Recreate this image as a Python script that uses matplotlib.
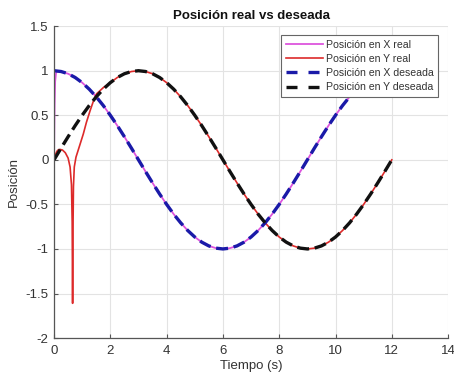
import matplotlib
matplotlib.use("Agg")
import matplotlib.pyplot as plt
from matplotlib.lines import Line2D

# ---- data ----
t_des = [0, 0.25, 0.5, 0.75, 1, 1.25, 1.5, 1.75, 2, 2.25, 2.5, 2.75, 3,
         3.25, 3.5, 3.75, 4, 4.25, 4.5, 4.75, 5, 5.25, 5.5, 5.75, 6,
         6.25, 6.5, 6.75, 7, 7.25, 7.5, 7.75, 8, 8.25, 8.5, 8.75, 9,
         9.25, 9.5, 9.75, 10, 10.25, 10.5, 10.75, 11, 11.25, 11.5, 11.75, 12]
x_des = [1.000, 0.991, 0.966, 0.924, 0.866, 0.793, 0.707, 0.609, 0.500, 0.383, 0.259, 0.131, 0.000,
         -0.131, -0.259, -0.383, -0.500, -0.609, -0.707, -0.793, -0.866, -0.924, -0.966, -0.991, -1.000,
         -0.991, -0.966, -0.924, -0.866, -0.793, -0.707, -0.609, -0.500, -0.383, -0.259, -0.131, 0.000,
         0.131, 0.259, 0.383, 0.500, 0.609, 0.707, 0.793, 0.866, 0.924, 0.966, 0.991, 1.000]
y_des = [0.000, 0.131, 0.259, 0.383, 0.500, 0.609, 0.707, 0.793, 0.866, 0.924, 0.966, 0.991, 1.000,
         0.991, 0.966, 0.924, 0.866, 0.793, 0.707, 0.609, 0.500, 0.383, 0.259, 0.131, 0.000,
         -0.131, -0.259, -0.383, -0.500, -0.609, -0.707, -0.793, -0.866, -0.924, -0.966, -0.991, -1.000,
         -0.991, -0.966, -0.924, -0.866, -0.793, -0.707, -0.609, -0.500, -0.383, -0.259, -0.131, 0.000]

t_xreal = [0, 0.01, 0.02, 0.04, 0.07, 0.1, 0.25, 0.5, 0.75, 1, 1.25, 1.5, 1.75, 2, 2.25, 2.5, 2.75, 3,
           3.25, 3.5, 3.75, 4, 4.25, 4.5, 4.75, 5, 5.25, 5.5, 5.75, 6,
           6.25, 6.5, 6.75, 7, 7.25, 7.5, 7.75, 8, 8.25, 8.5, 8.75, 9,
           9.25, 9.5, 9.75, 10, 10.25, 10.5, 10.75, 11, 11.25, 11.5, 11.75, 12]
x_real = [0.000, 0.350, 0.620, 0.880, 0.970, 0.995, 0.991, 0.966, 0.924, 0.866, 0.793, 0.707, 0.609, 0.500, 0.383, 0.259, 0.131, 0.000,
          -0.131, -0.259, -0.383, -0.500, -0.609, -0.707, -0.793, -0.866, -0.924, -0.966, -0.991, -1.000,
          -0.991, -0.966, -0.924, -0.866, -0.793, -0.707, -0.609, -0.500, -0.383, -0.259, -0.131, 0.000,
          0.131, 0.259, 0.383, 0.500, 0.609, 0.707, 0.793, 0.866, 0.924, 0.966, 0.991, 1.000]

t_yreal = [0, 0.05, 0.1, 0.15, 0.21, 0.3, 0.4, 0.5, 0.57, 0.62, 0.645, 0.66, 0.675, 0.69, 0.72,
           0.78, 0.86, 0.95, 1.04, 1.15, 1.28, 1.4, 1.51, 1.75, 2, 2.25, 2.5, 2.75, 3,
           3.25, 3.5, 3.75, 4, 4.25, 4.5, 4.75, 5, 5.25, 5.5, 5.75, 6,
           6.25, 6.5, 6.75, 7, 7.25, 7.5, 7.75, 8, 8.25, 8.5, 8.75, 9,
           9.25, 9.5, 9.75, 10, 10.25, 10.5, 10.75, 11, 11.25, 11.5, 11.75, 12]
y_real = [0.000, 0.060, 0.095, 0.112, 0.117, 0.110, 0.080, 0.020, -0.080, -0.280, -0.700, -1.610, -0.750, -0.300, -0.080,
          0.030, 0.110, 0.200, 0.290, 0.420, 0.550, 0.660, 0.740, 0.810, 0.866, 0.924, 0.966, 0.991, 1.000,
          0.991, 0.966, 0.924, 0.866, 0.793, 0.707, 0.609, 0.500, 0.383, 0.259, 0.131, 0.000,
          -0.131, -0.259, -0.383, -0.500, -0.609, -0.707, -0.793, -0.866, -0.924, -0.966, -0.991, -1.000,
          -0.991, -0.966, -0.924, -0.866, -0.793, -0.707, -0.609, -0.500, -0.383, -0.259, -0.131, 0.000]

labels = ["Posición en X real", "Posición en Y real",
          "Posición en X deseada", "Posición en Y deseada"]
xticks = [0, 2, 4, 6, 8, 10, 12, 14]
yticks = [-2, -1.5, -1, -0.5, 0, 0.5, 1, 1.5]
ytick_labels = ["-2", "-1.5", "-1", "-0.5", "0", "0.5", "1", "1.5"]

colors = ['#dd55dd', '#dd2a2a', '#1a1aa8', '#111111']

# ---- plot ----
plt.rcParams['font.family'] = ['Liberation Sans', 'DejaVu Sans']
fig = plt.figure(figsize=(4.54, 3.79), dpi=100)
ax = fig.add_axes([0.119, 0.108, 0.868, 0.823])

ax.plot(t_xreal, x_real, color=colors[0], lw=1.3)
ax.plot(t_yreal, y_real, color=colors[1], lw=1.2)
ax.plot(t_des, x_des, color=colors[2], lw=2.4, dashes=(3.6, 1.7))
ax.plot(t_des, y_des, color=colors[3], lw=2.4, dashes=(3.6, 1.7))

ax.set_xlim(0, 14)
ax.set_ylim(-2, 1.5)
ax.set_xticks(xticks)
ax.set_yticks(yticks)
ax.set_yticklabels(ytick_labels)
ax.grid(True, color='#e3e3e3', lw=0.8)
ax.set_axisbelow(True)
for s in ['top', 'right']:
    ax.spines[s].set_visible(False)
for s in ['left', 'bottom']:
    ax.spines[s].set_color('#555555')
    ax.spines[s].set_linewidth(0.9)
ax.tick_params(direction='in', length=3, width=0.8, colors='#555555',
               labelcolor='#333333', labelsize=9.5)
ax.tick_params(axis='x', pad=5)
ax.tick_params(axis='y', pad=4)

ax.set_title("Posición real vs deseada", fontsize=9.5, fontweight='bold',
             color='#111111', pad=5)
ax.set_xlabel("Tiempo (s)", fontsize=9.5, color='#333333', labelpad=2)
ax.set_ylabel("Posición", fontsize=9.5, color='#333333', labelpad=4)

handles = [
    Line2D([], [], color=colors[0], lw=1.3),
    Line2D([], [], color=colors[1], lw=1.2),
    Line2D([], [], color=colors[2], lw=2.4, dashes=(3.3, 3.3)),
    Line2D([], [], color=colors[3], lw=2.4, dashes=(3.3, 3.3)),
]
leg = ax.legend(handles, labels, loc='upper right', bbox_to_anchor=(0.975, 0.972),
                fontsize=7.6, frameon=True, fancybox=False, framealpha=1,
                edgecolor='#666666', handlelength=3.5, handletextpad=0.3,
                borderpad=0.45, labelspacing=0.4, borderaxespad=0)
leg.set_zorder(10)
leg.get_frame().set_linewidth(0.8)
for txt in leg.get_texts():
    txt.set_color('#333333')

fig.savefig("out.png", dpi=100)
